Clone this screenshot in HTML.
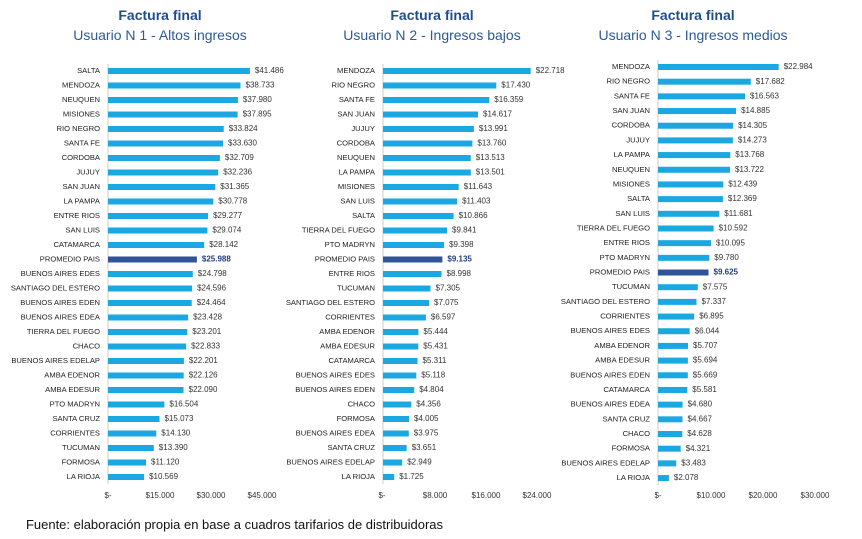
<!DOCTYPE html>
<html><head><meta charset="utf-8"><style>
html,body{margin:0;padding:0;background:#fff;}
svg{display:block;font-family:"Liberation Sans",sans-serif;}
.t{font-weight:bold;font-size:14px;fill:#1f4e8c;text-anchor:middle;}
.s{font-size:14px;fill:#2c5a96;text-anchor:middle;}
.l{font-size:7.6px;fill:#222;text-anchor:end;dominant-baseline:middle;}
.v{font-size:8px;fill:#333;dominant-baseline:middle;}
.a{font-size:8px;fill:#333;text-anchor:middle;}
.b{fill:#1ba8e2;}
.p{fill:#2f5597;}
.pv{font-weight:bold;fill:#1f3f7a;}
</style></head><body>
<svg width="862" height="539" viewBox="0 0 862 539">
<text class="t" x="160" y="20">Factura final</text>
<text class="s" x="160" y="40">Usuario N 1 - Altos ingresos</text>
<text class="t" x="432" y="20">Factura final</text>
<text class="s" x="432" y="40">Usuario N 2 - Ingresos bajos</text>
<text class="t" x="693" y="20">Factura final</text>
<text class="s" x="693" y="40">Usuario N 3 - Ingresos medios</text>

<!-- Panel 1 -->
<line x1="108" y1="64" x2="108" y2="484" stroke="#ccc" stroke-width="1"/>
<g transform="translate(0,71)">
<g><rect class="b" x="108" y="-3" width="141.9" height="6"/><text class="l" x="100" y="0">SALTA</text><text class="v" x="254.9" y="0">$41.486</text></g>
<g transform="translate(0,14.5)"><rect class="b" x="108" y="-3" width="132.5" height="6"/><text class="l" x="100" y="0">MENDOZA</text><text class="v" x="245.5" y="0">$38.733</text></g>
<g transform="translate(0,29)"><rect class="b" x="108" y="-3" width="129.9" height="6"/><text class="l" x="100" y="0">NEUQUEN</text><text class="v" x="242.9" y="0">$37.980</text></g>
<g transform="translate(0,43.5)"><rect class="b" x="108" y="-3" width="129.6" height="6"/><text class="l" x="100" y="0">MISIONES</text><text class="v" x="242.6" y="0">$37.895</text></g>
<g transform="translate(0,58)"><rect class="b" x="108" y="-3" width="115.7" height="6"/><text class="l" x="100" y="0">RIO NEGRO</text><text class="v" x="228.7" y="0">$33.824</text></g>
<g transform="translate(0,72.5)"><rect class="b" x="108" y="-3" width="115.0" height="6"/><text class="l" x="100" y="0">SANTA FE</text><text class="v" x="228" y="0">$33.630</text></g>
<g transform="translate(0,87)"><rect class="b" x="108" y="-3" width="111.9" height="6"/><text class="l" x="100" y="0">CORDOBA</text><text class="v" x="224.9" y="0">$32.709</text></g>
<g transform="translate(0,101.5)"><rect class="b" x="108" y="-3" width="110.2" height="6"/><text class="l" x="100" y="0">JUJUY</text><text class="v" x="223.2" y="0">$32.236</text></g>
<g transform="translate(0,116)"><rect class="b" x="108" y="-3" width="107.3" height="6"/><text class="l" x="100" y="0">SAN JUAN</text><text class="v" x="220.3" y="0">$31.365</text></g>
<g transform="translate(0,130.5)"><rect class="b" x="108" y="-3" width="105.3" height="6"/><text class="l" x="100" y="0">LA PAMPA</text><text class="v" x="218.3" y="0">$30.778</text></g>
<g transform="translate(0,145)"><rect class="b" x="108" y="-3" width="100.1" height="6"/><text class="l" x="100" y="0">ENTRE RIOS</text><text class="v" x="213.1" y="0">$29.277</text></g>
<g transform="translate(0,159.5)"><rect class="b" x="108" y="-3" width="99.4" height="6"/><text class="l" x="100" y="0">SAN LUIS</text><text class="v" x="212.4" y="0">$29.074</text></g>
<g transform="translate(0,174)"><rect class="b" x="108" y="-3" width="96.2" height="6"/><text class="l" x="100" y="0">CATAMARCA</text><text class="v" x="209.2" y="0">$28.142</text></g>
<g transform="translate(0,188.5)"><rect class="p" x="108" y="-3" width="88.9" height="6"/><text class="l" x="100" y="0">PROMEDIO PAIS</text><text class="v pv" x="201.9" y="0">$25.988</text></g>
<g transform="translate(0,203)"><rect class="b" x="108" y="-3" width="84.8" height="6"/><text class="l" x="100" y="0">BUENOS AIRES EDES</text><text class="v" x="197.8" y="0">$24.798</text></g>
<g transform="translate(0,217.5)"><rect class="b" x="108" y="-3" width="84.1" height="6"/><text class="l" x="100" y="0">SANTIAGO DEL ESTERO</text><text class="v" x="197.1" y="0">$24.596</text></g>
<g transform="translate(0,232)"><rect class="b" x="108" y="-3" width="83.7" height="6"/><text class="l" x="100" y="0">BUENOS AIRES EDEN</text><text class="v" x="196.7" y="0">$24.464</text></g>
<g transform="translate(0,246.5)"><rect class="b" x="108" y="-3" width="80.1" height="6"/><text class="l" x="100" y="0">BUENOS AIRES EDEA</text><text class="v" x="193.1" y="0">$23.428</text></g>
<g transform="translate(0,261)"><rect class="b" x="108" y="-3" width="79.3" height="6"/><text class="l" x="100" y="0">TIERRA DEL FUEGO</text><text class="v" x="192.3" y="0">$23.201</text></g>
<g transform="translate(0,275.5)"><rect class="b" x="108" y="-3" width="78.1" height="6"/><text class="l" x="100" y="0">CHACO</text><text class="v" x="191.1" y="0">$22.833</text></g>
<g transform="translate(0,290)"><rect class="b" x="108" y="-3" width="75.9" height="6"/><text class="l" x="100" y="0">BUENOS AIRES EDELAP</text><text class="v" x="188.9" y="0">$22.201</text></g>
<g transform="translate(0,304.5)"><rect class="b" x="108" y="-3" width="75.7" height="6"/><text class="l" x="100" y="0">AMBA EDENOR</text><text class="v" x="188.7" y="0">$22.126</text></g>
<g transform="translate(0,319)"><rect class="b" x="108" y="-3" width="75.5" height="6"/><text class="l" x="100" y="0">AMBA EDESUR</text><text class="v" x="188.5" y="0">$22.090</text></g>
<g transform="translate(0,333.5)"><rect class="b" x="108" y="-3" width="56.4" height="6"/><text class="l" x="100" y="0">PTO MADRYN</text><text class="v" x="169.4" y="0">$16.504</text></g>
<g transform="translate(0,348)"><rect class="b" x="108" y="-3" width="51.5" height="6"/><text class="l" x="100" y="0">SANTA CRUZ</text><text class="v" x="164.5" y="0">$15.073</text></g>
<g transform="translate(0,362.5)"><rect class="b" x="108" y="-3" width="48.3" height="6"/><text class="l" x="100" y="0">CORRIENTES</text><text class="v" x="161.3" y="0">$14.130</text></g>
<g transform="translate(0,377)"><rect class="b" x="108" y="-3" width="45.8" height="6"/><text class="l" x="100" y="0">TUCUMAN</text><text class="v" x="158.8" y="0">$13.390</text></g>
<g transform="translate(0,391.5)"><rect class="b" x="108" y="-3" width="38.0" height="6"/><text class="l" x="100" y="0">FORMOSA</text><text class="v" x="151" y="0">$11.120</text></g>
<g transform="translate(0,406)"><rect class="b" x="108" y="-3" width="36.1" height="6"/><text class="l" x="100" y="0">LA RIOJA</text><text class="v" x="149.1" y="0">$10.569</text></g>
</g>
<text class="a" x="108" y="498">$-</text><text class="a" x="160" y="498">$15.000</text><text class="a" x="211" y="498">$30.000</text><text class="a" x="262" y="498">$45.000</text>

<!-- Panel 2 -->
<line x1="383" y1="64" x2="383" y2="484" stroke="#ccc" stroke-width="1"/>
<g transform="translate(0,71)">
<g><rect class="b" x="383" y="-3" width="147.7" height="6"/><text class="l" x="375" y="0">MENDOZA</text><text class="v" x="535.7" y="0">$22.718</text></g>
<g transform="translate(0,14.5)"><rect class="b" x="383" y="-3" width="113.3" height="6"/><text class="l" x="375" y="0">RIO NEGRO</text><text class="v" x="501.3" y="0">$17.430</text></g>
<g transform="translate(0,29)"><rect class="b" x="383" y="-3" width="106.3" height="6"/><text class="l" x="375" y="0">SANTA FE</text><text class="v" x="494.3" y="0">$16.359</text></g>
<g transform="translate(0,43.5)"><rect class="b" x="383" y="-3" width="95.0" height="6"/><text class="l" x="375" y="0">SAN JUAN</text><text class="v" x="483" y="0">$14.617</text></g>
<g transform="translate(0,58)"><rect class="b" x="383" y="-3" width="90.9" height="6"/><text class="l" x="375" y="0">JUJUY</text><text class="v" x="478.9" y="0">$13.991</text></g>
<g transform="translate(0,72.5)"><rect class="b" x="383" y="-3" width="89.4" height="6"/><text class="l" x="375" y="0">CORDOBA</text><text class="v" x="477.4" y="0">$13.760</text></g>
<g transform="translate(0,87)"><rect class="b" x="383" y="-3" width="87.8" height="6"/><text class="l" x="375" y="0">NEUQUEN</text><text class="v" x="475.8" y="0">$13.513</text></g>
<g transform="translate(0,101.5)"><rect class="b" x="383" y="-3" width="87.8" height="6"/><text class="l" x="375" y="0">LA PAMPA</text><text class="v" x="475.8" y="0">$13.501</text></g>
<g transform="translate(0,116)"><rect class="b" x="383" y="-3" width="75.7" height="6"/><text class="l" x="375" y="0">MISIONES</text><text class="v" x="463.7" y="0">$11.643</text></g>
<g transform="translate(0,130.5)"><rect class="b" x="383" y="-3" width="74.1" height="6"/><text class="l" x="375" y="0">SAN LUIS</text><text class="v" x="462.1" y="0">$11.403</text></g>
<g transform="translate(0,145)"><rect class="b" x="383" y="-3" width="70.6" height="6"/><text class="l" x="375" y="0">SALTA</text><text class="v" x="458.6" y="0">$10.866</text></g>
<g transform="translate(0,159.5)"><rect class="b" x="383" y="-3" width="64.0" height="6"/><text class="l" x="375" y="0">TIERRA DEL FUEGO</text><text class="v" x="452" y="0">$9.841</text></g>
<g transform="translate(0,174)"><rect class="b" x="383" y="-3" width="61.1" height="6"/><text class="l" x="375" y="0">PTO MADRYN</text><text class="v" x="449.1" y="0">$9.398</text></g>
<g transform="translate(0,188.5)"><rect class="p" x="383" y="-3" width="59.4" height="6"/><text class="l" x="375" y="0">PROMEDIO PAIS</text><text class="v pv" x="447.4" y="0">$9.135</text></g>
<g transform="translate(0,203)"><rect class="b" x="383" y="-3" width="58.5" height="6"/><text class="l" x="375" y="0">ENTRE RIOS</text><text class="v" x="446.5" y="0">$8.998</text></g>
<g transform="translate(0,217.5)"><rect class="b" x="383" y="-3" width="47.5" height="6"/><text class="l" x="375" y="0">TUCUMAN</text><text class="v" x="435.5" y="0">$7.305</text></g>
<g transform="translate(0,232)"><rect class="b" x="383" y="-3" width="46.0" height="6"/><text class="l" x="375" y="0">SANTIAGO DEL ESTERO</text><text class="v" x="434" y="0">$7.075</text></g>
<g transform="translate(0,246.5)"><rect class="b" x="383" y="-3" width="42.9" height="6"/><text class="l" x="375" y="0">CORRIENTES</text><text class="v" x="430.9" y="0">$6.597</text></g>
<g transform="translate(0,261)"><rect class="b" x="383" y="-3" width="35.4" height="6"/><text class="l" x="375" y="0">AMBA EDENOR</text><text class="v" x="423.4" y="0">$5.444</text></g>
<g transform="translate(0,275.5)"><rect class="b" x="383" y="-3" width="35.3" height="6"/><text class="l" x="375" y="0">AMBA EDESUR</text><text class="v" x="423.3" y="0">$5.431</text></g>
<g transform="translate(0,290)"><rect class="b" x="383" y="-3" width="34.5" height="6"/><text class="l" x="375" y="0">CATAMARCA</text><text class="v" x="422.5" y="0">$5.311</text></g>
<g transform="translate(0,304.5)"><rect class="b" x="383" y="-3" width="33.3" height="6"/><text class="l" x="375" y="0">BUENOS AIRES EDES</text><text class="v" x="421.3" y="0">$5.118</text></g>
<g transform="translate(0,319)"><rect class="b" x="383" y="-3" width="31.2" height="6"/><text class="l" x="375" y="0">BUENOS AIRES EDEN</text><text class="v" x="419.2" y="0">$4.804</text></g>
<g transform="translate(0,333.5)"><rect class="b" x="383" y="-3" width="28.3" height="6"/><text class="l" x="375" y="0">CHACO</text><text class="v" x="416.3" y="0">$4.356</text></g>
<g transform="translate(0,348)"><rect class="b" x="383" y="-3" width="26.0" height="6"/><text class="l" x="375" y="0">FORMOSA</text><text class="v" x="414" y="0">$4.005</text></g>
<g transform="translate(0,362.5)"><rect class="b" x="383" y="-3" width="25.8" height="6"/><text class="l" x="375" y="0">BUENOS AIRES EDEA</text><text class="v" x="413.8" y="0">$3.975</text></g>
<g transform="translate(0,377)"><rect class="b" x="383" y="-3" width="23.7" height="6"/><text class="l" x="375" y="0">SANTA CRUZ</text><text class="v" x="411.7" y="0">$3.651</text></g>
<g transform="translate(0,391.5)"><rect class="b" x="383" y="-3" width="19.2" height="6"/><text class="l" x="375" y="0">BUENOS AIRES EDELAP</text><text class="v" x="407.2" y="0">$2.949</text></g>
<g transform="translate(0,406)"><rect class="b" x="383" y="-3" width="11.2" height="6"/><text class="l" x="375" y="0">LA RIOJA</text><text class="v" x="399.2" y="0">$1.725</text></g>
</g>
<text class="a" x="382" y="498">$-</text><text class="a" x="435" y="498">$8.000</text><text class="a" x="486" y="498">$16.000</text><text class="a" x="537" y="498">$24.000</text>

<!-- Panel 3 -->
<line x1="658" y1="60" x2="658" y2="485" stroke="#ccc" stroke-width="1"/>
<g transform="translate(0,67)">
<g><rect class="b" x="658" y="-3" width="120.7" height="6"/><text class="l" x="650" y="0">MENDOZA</text><text class="v" x="783.7" y="0">$22.984</text></g>
<g transform="translate(0,14.68)"><rect class="b" x="658" y="-3" width="92.8" height="6"/><text class="l" x="650" y="0">RIO NEGRO</text><text class="v" x="755.8" y="0">$17.682</text></g>
<g transform="translate(0,29.36)"><rect class="b" x="658" y="-3" width="87.0" height="6"/><text class="l" x="650" y="0">SANTA FE</text><text class="v" x="750" y="0">$16.563</text></g>
<g transform="translate(0,44.04)"><rect class="b" x="658" y="-3" width="78.1" height="6"/><text class="l" x="650" y="0">SAN JUAN</text><text class="v" x="741.1" y="0">$14.885</text></g>
<g transform="translate(0,58.72)"><rect class="b" x="658" y="-3" width="75.1" height="6"/><text class="l" x="650" y="0">CORDOBA</text><text class="v" x="738.1" y="0">$14.305</text></g>
<g transform="translate(0,73.4)"><rect class="b" x="658" y="-3" width="74.9" height="6"/><text class="l" x="650" y="0">JUJUY</text><text class="v" x="737.9" y="0">$14.273</text></g>
<g transform="translate(0,88.08)"><rect class="b" x="658" y="-3" width="72.3" height="6"/><text class="l" x="650" y="0">LA PAMPA</text><text class="v" x="735.3" y="0">$13.768</text></g>
<g transform="translate(0,102.76)"><rect class="b" x="658" y="-3" width="72.0" height="6"/><text class="l" x="650" y="0">NEUQUEN</text><text class="v" x="735" y="0">$13.722</text></g>
<g transform="translate(0,117.44)"><rect class="b" x="658" y="-3" width="65.3" height="6"/><text class="l" x="650" y="0">MISIONES</text><text class="v" x="728.3" y="0">$12.439</text></g>
<g transform="translate(0,132.12)"><rect class="b" x="658" y="-3" width="64.9" height="6"/><text class="l" x="650" y="0">SALTA</text><text class="v" x="727.9" y="0">$12.369</text></g>
<g transform="translate(0,146.8)"><rect class="b" x="658" y="-3" width="61.3" height="6"/><text class="l" x="650" y="0">SAN LUIS</text><text class="v" x="724.3" y="0">$11.681</text></g>
<g transform="translate(0,161.48)"><rect class="b" x="658" y="-3" width="55.6" height="6"/><text class="l" x="650" y="0">TIERRA DEL FUEGO</text><text class="v" x="718.6" y="0">$10.592</text></g>
<g transform="translate(0,176.16)"><rect class="b" x="658" y="-3" width="53.0" height="6"/><text class="l" x="650" y="0">ENTRE RIOS</text><text class="v" x="716" y="0">$10.095</text></g>
<g transform="translate(0,190.84)"><rect class="b" x="658" y="-3" width="51.3" height="6"/><text class="l" x="650" y="0">PTO MADRYN</text><text class="v" x="714.3" y="0">$9.780</text></g>
<g transform="translate(0,205.52)"><rect class="p" x="658" y="-3" width="50.5" height="6"/><text class="l" x="650" y="0">PROMEDIO PAIS</text><text class="v pv" x="713.5" y="0">$9.625</text></g>
<g transform="translate(0,220.2)"><rect class="b" x="658" y="-3" width="39.8" height="6"/><text class="l" x="650" y="0">TUCUMAN</text><text class="v" x="702.8" y="0">$7.575</text></g>
<g transform="translate(0,234.88)"><rect class="b" x="658" y="-3" width="38.5" height="6"/><text class="l" x="650" y="0">SANTIAGO DEL ESTERO</text><text class="v" x="701.5" y="0">$7.337</text></g>
<g transform="translate(0,249.56)"><rect class="b" x="658" y="-3" width="36.2" height="6"/><text class="l" x="650" y="0">CORRIENTES</text><text class="v" x="699.2" y="0">$6.895</text></g>
<g transform="translate(0,264.24)"><rect class="b" x="658" y="-3" width="31.7" height="6"/><text class="l" x="650" y="0">BUENOS AIRES EDES</text><text class="v" x="694.7" y="0">$6.044</text></g>
<g transform="translate(0,278.92)"><rect class="b" x="658" y="-3" width="30.0" height="6"/><text class="l" x="650" y="0">AMBA EDENOR</text><text class="v" x="693" y="0">$5.707</text></g>
<g transform="translate(0,293.6)"><rect class="b" x="658" y="-3" width="29.9" height="6"/><text class="l" x="650" y="0">AMBA EDESUR</text><text class="v" x="692.9" y="0">$5.694</text></g>
<g transform="translate(0,308.28)"><rect class="b" x="658" y="-3" width="29.8" height="6"/><text class="l" x="650" y="0">BUENOS AIRES EDEN</text><text class="v" x="692.8" y="0">$5.669</text></g>
<g transform="translate(0,322.96)"><rect class="b" x="658" y="-3" width="29.3" height="6"/><text class="l" x="650" y="0">CATAMARCA</text><text class="v" x="692.3" y="0">$5.581</text></g>
<g transform="translate(0,337.64)"><rect class="b" x="658" y="-3" width="24.6" height="6"/><text class="l" x="650" y="0">BUENOS AIRES EDEA</text><text class="v" x="687.6" y="0">$4.680</text></g>
<g transform="translate(0,352.32)"><rect class="b" x="658" y="-3" width="24.5" height="6"/><text class="l" x="650" y="0">SANTA CRUZ</text><text class="v" x="687.5" y="0">$4.667</text></g>
<g transform="translate(0,367)"><rect class="b" x="658" y="-3" width="24.3" height="6"/><text class="l" x="650" y="0">CHACO</text><text class="v" x="687.3" y="0">$4.628</text></g>
<g transform="translate(0,381.68)"><rect class="b" x="658" y="-3" width="22.7" height="6"/><text class="l" x="650" y="0">FORMOSA</text><text class="v" x="685.7" y="0">$4.321</text></g>
<g transform="translate(0,396.36)"><rect class="b" x="658" y="-3" width="18.3" height="6"/><text class="l" x="650" y="0">BUENOS AIRES EDELAP</text><text class="v" x="681.3" y="0">$3.483</text></g>
<g transform="translate(0,411.04)"><rect class="b" x="658" y="-3" width="10.9" height="6"/><text class="l" x="650" y="0">LA RIOJA</text><text class="v" x="673.9" y="0">$2.078</text></g>
</g>
<text class="a" x="658" y="498">$-</text><text class="a" x="711" y="498">$10.000</text><text class="a" x="763" y="498">$20.000</text><text class="a" x="815" y="498">$30.000</text>

<text x="26" y="529" textLength="417" lengthAdjust="spacingAndGlyphs" style="font-size:12.8px;fill:#111;">Fuente: elaboración propia en base a cuadros tarifarios de distribuidoras</text>
</svg>
</body></html>
